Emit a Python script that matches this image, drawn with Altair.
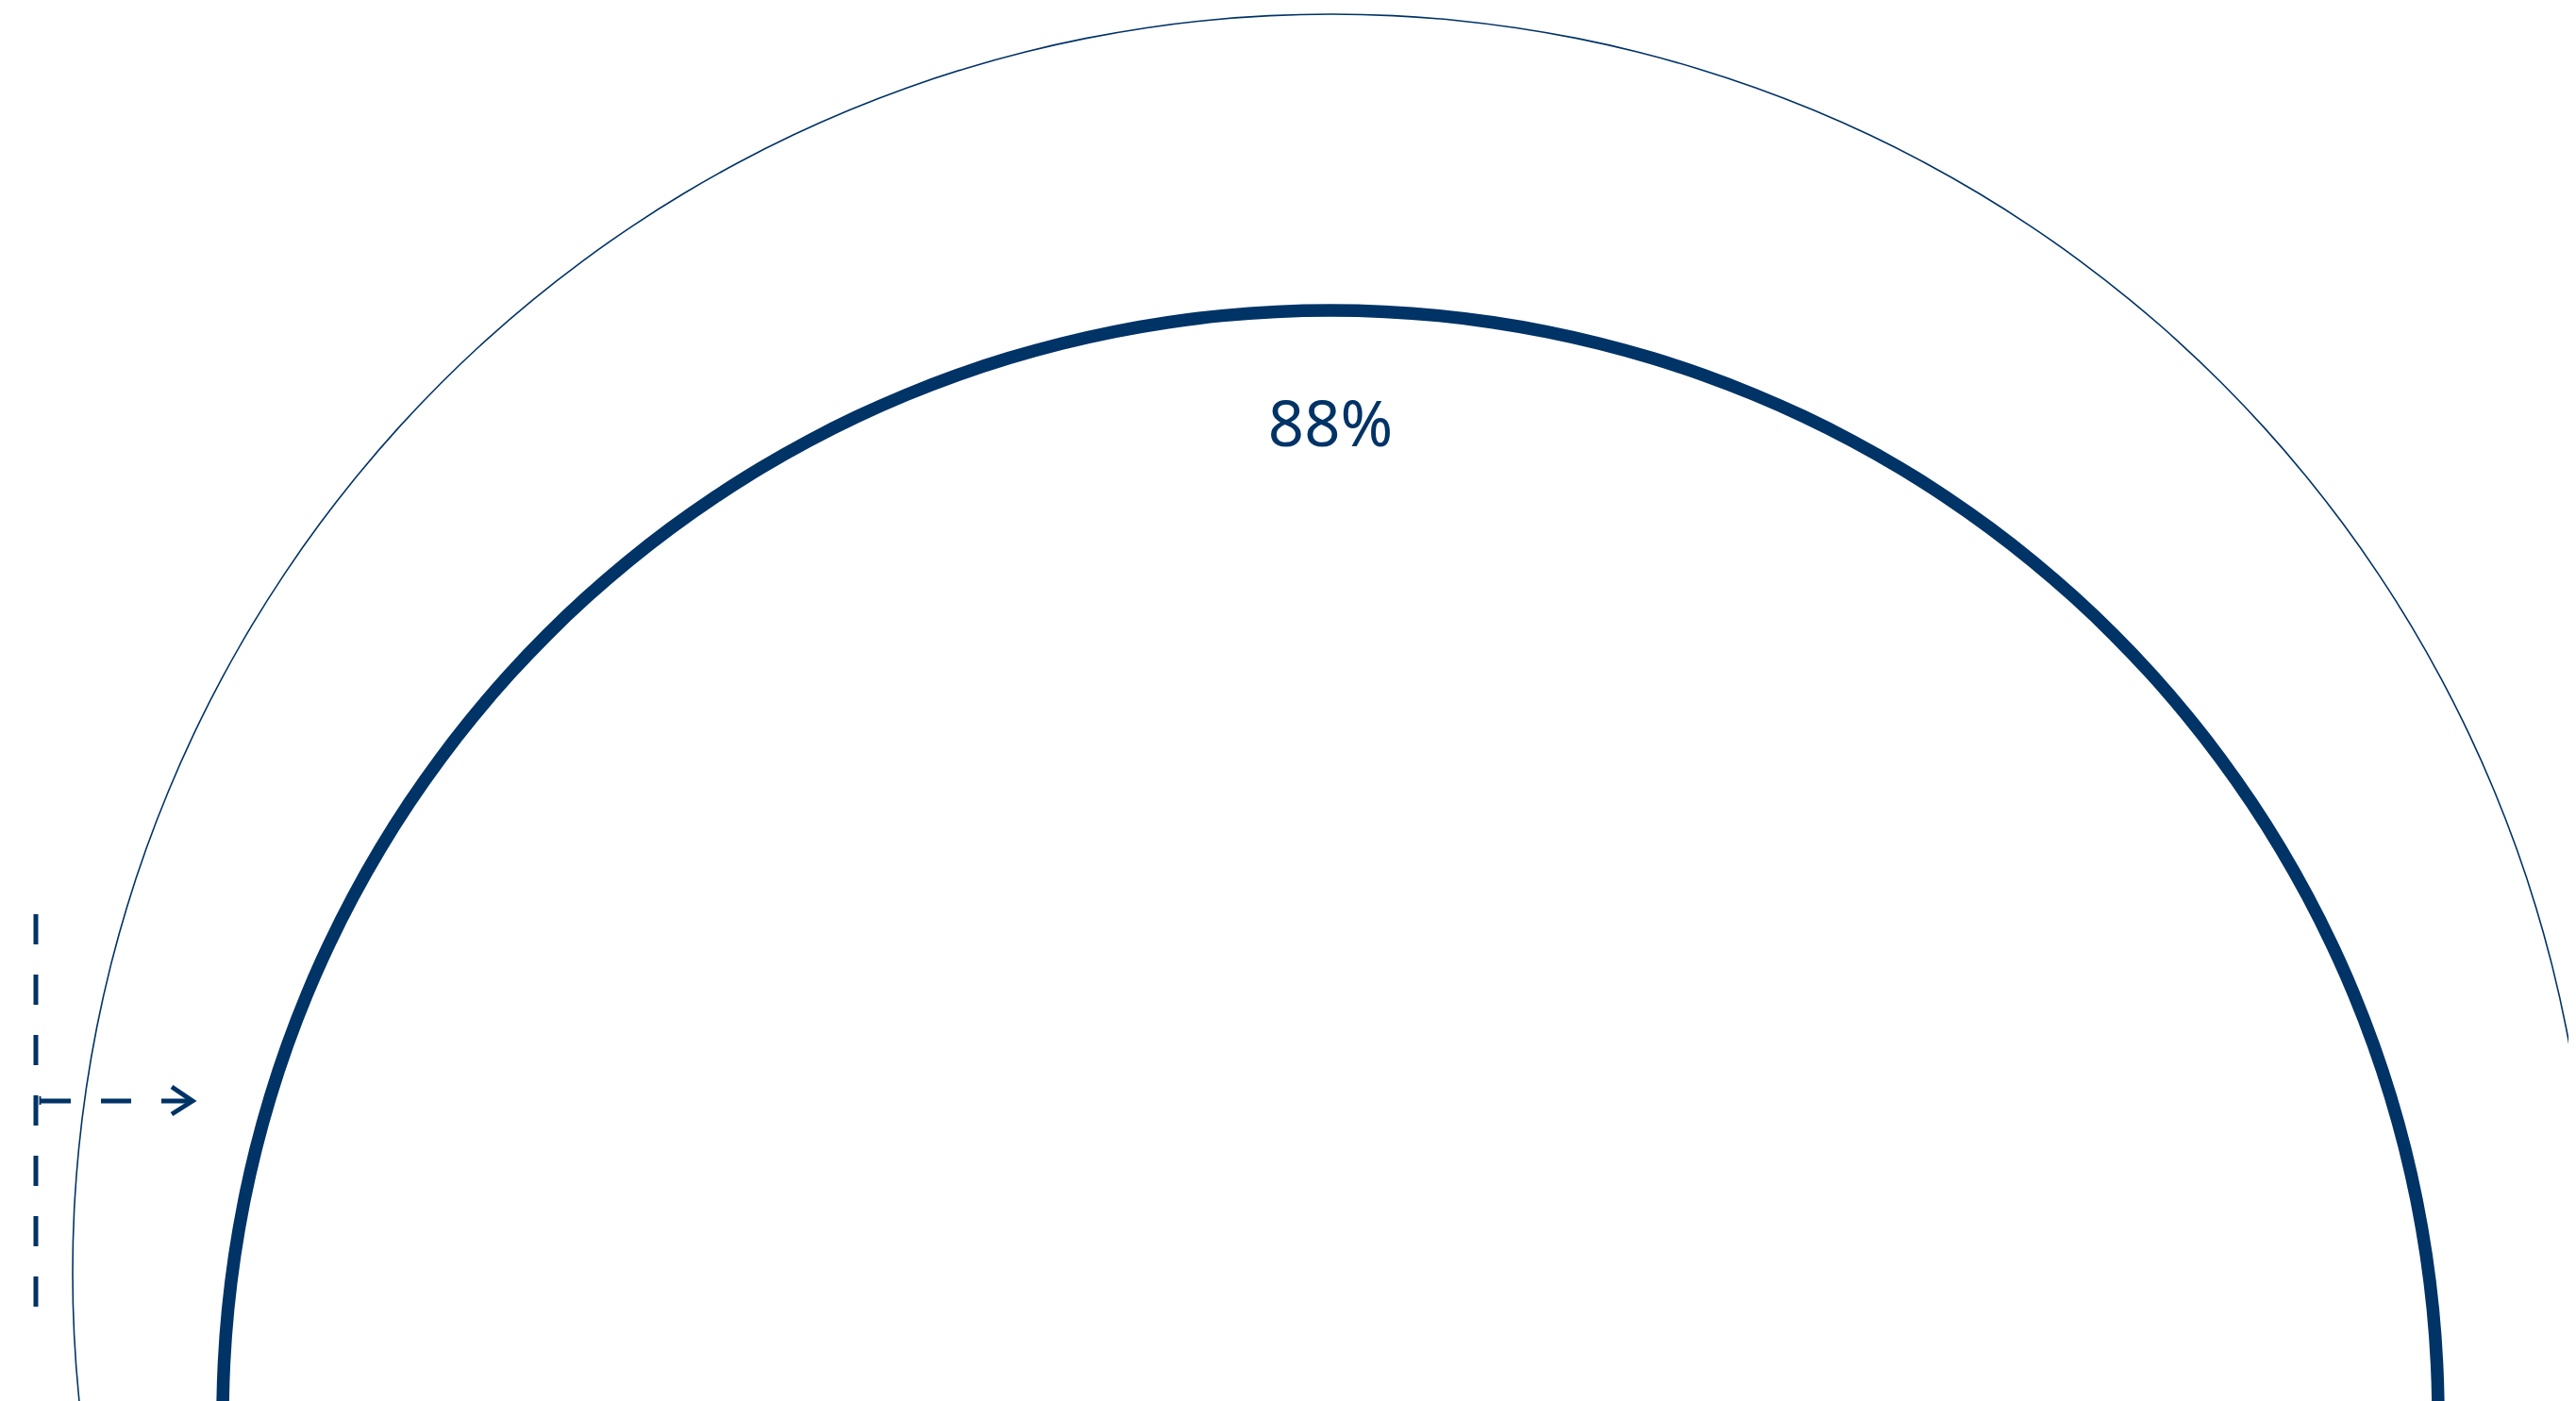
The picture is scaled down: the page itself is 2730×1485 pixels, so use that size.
import math
import altair as alt
import pandas as pd

NAVY = "#003366"

# ---- data ----
VALUE_LABEL = ["88%"]
LABEL_X = [1410]
LABEL_Y = [473]

# rings: centre (screen px), mid radius, thickness
RING_NAMES = ["outer", "inner"]
RING_CX = [1411, 1410]
RING_CY = [1349, 1503]
RING_R = [1334, 1174]
RING_W = [1.6, 13.5]

# dashed guide segments
SEG_NAMES = ["vertical", "horizontal"]
SEG_X1 = [38, 43]
SEG_Y1 = [969, 1167]
SEG_X2 = [38, 202]
SEG_Y2 = [1385, 1167]

# arrow head (chevron) points
HEAD_X = [182, 204, 182]
HEAD_Y = [1152, 1167, 1181]
HEAD_ORDER = [0, 1, 2]

# start tick of arrow
TICK_X = [42.5]
TICK_Y1 = [1162]
TICK_Y2 = [1171]

W, H = 2714, 1477
XD = [8, 8 + W]
YD = [8, 8 + H]

xs = alt.Scale(domain=XD, nice=False, zero=False)
ys = alt.Scale(domain=YD, nice=False, zero=False, reverse=True)

rings = pd.DataFrame({
    "name": RING_NAMES,
    "cx": RING_CX,
    "cy": RING_CY,
    "ro": [r + w / 2 for r, w in zip(RING_R, RING_W)],
    "ri": [r - w / 2 for r, w in zip(RING_R, RING_W)],
})

ring_layer = alt.Chart(rings).mark_arc(color=NAVY, clip=True).encode(
    x=alt.X("cx:Q", scale=xs, axis=None),
    y=alt.Y("cy:Q", scale=ys, axis=None),
    radius=alt.Radius("ro:Q", scale=None),
    radius2=alt.Radius2("ri:Q"),
    theta=alt.value(0),
    theta2=alt.value(2 * math.pi),
)

segs = pd.DataFrame({
    "name": SEG_NAMES, "x1": SEG_X1, "y1": SEG_Y1, "x2": SEG_X2, "y2": SEG_Y2,
})
seg_layer = alt.Chart(segs).mark_rule(
    color=NAVY, strokeWidth=5, strokeDash=[32, 32], strokeCap="butt", clip=True
).encode(
    x=alt.X("x1:Q", scale=xs, axis=None),
    y=alt.Y("y1:Q", scale=ys, axis=None),
    x2="x2:Q",
    y2="y2:Q",
)

head = pd.DataFrame({"hx": HEAD_X, "hy": HEAD_Y, "k": HEAD_ORDER})
head_layer = alt.Chart(head).mark_line(
    color=NAVY, strokeWidth=5, strokeJoin="miter", strokeCap="butt", clip=True
).encode(
    x=alt.X("hx:Q", scale=xs, axis=None),
    y=alt.Y("hy:Q", scale=ys, axis=None),
    order="k:Q",
)

tick = pd.DataFrame({"tx": TICK_X, "ty1": TICK_Y1, "ty2": TICK_Y2})
tick_layer = alt.Chart(tick).mark_rule(color=NAVY, strokeWidth=2).encode(
    x=alt.X("tx:Q", scale=xs, axis=None),
    y=alt.Y("ty1:Q", scale=ys, axis=None),
    y2="ty2:Q",
)

labels = pd.DataFrame({"lx": LABEL_X, "ly": LABEL_Y, "label": VALUE_LABEL})
text_layer = alt.Chart(labels).mark_text(
    font="Noto Sans", fontSize=67, color=NAVY, align="center", baseline="alphabetic"
).encode(
    x=alt.X("lx:Q", scale=xs, axis=None),
    y=alt.Y("ly:Q", scale=ys, axis=None),
    text="label:N",
)

chart = alt.layer(ring_layer, seg_layer, head_layer, tick_layer, text_layer).properties(
    width=W, height=H, padding=0, autosize=alt.AutoSizeParams(type="none"),
    background="white",
).configure_view(stroke=None)

chart.save("out.html", embed_options={"renderer": "svg", "actions": False})
